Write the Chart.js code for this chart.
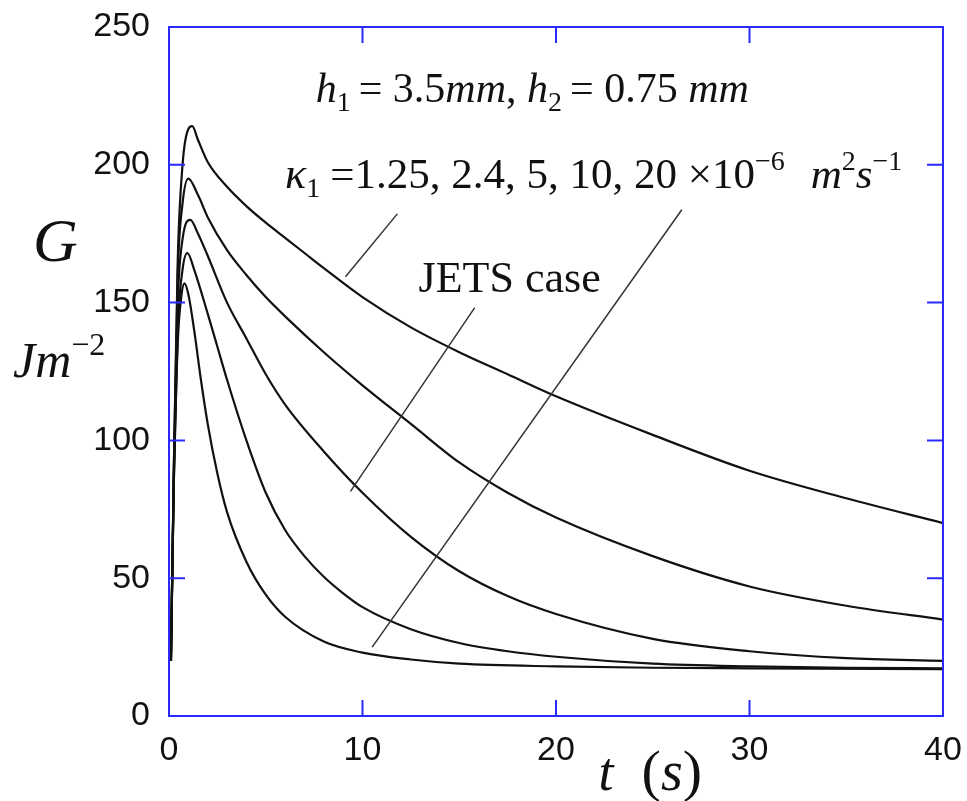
<!DOCTYPE html>
<html lang="en">
<head>
    <meta charset="UTF-8">
    <title>Energy release rate G vs time</title>
    <script src="https://cdn.jsdelivr.net/npm/chart.js"></script>
    <style>
        body { margin: 0; background: #fff; }
        #wrap { width: 967px; height: 801px; }
    </style>
</head>
<body>
    <div id="wrap"><canvas id="gChart" width="967" height="801"></canvas></div>

    <script>
        // G (J/m^2) against time t (s), one curve per kappa_1
        const kappaLabels = ['1.25', '2.4', '5', '10', '20'];

        const t1 = [0.1, 0.25, 0.45, 0.7, 1.0, 1.2, 1.5, 2, 3, 4, 5, 6, 7, 8, 10, 12.5, 15, 17.5, 20, 25, 30, 35, 40];
        const g1 = [20, 90, 165, 200, 213, 214, 209, 201, 192, 185, 179, 173.5, 168, 162.5, 152, 141, 132, 124, 116, 102, 89, 79, 70];

        const t2 = [0.1, 0.25, 0.45, 0.7, 1.0, 1.5, 2, 3, 4, 5, 6, 8, 10, 12.5, 15, 17.5, 20, 25, 30, 35, 40];
        const g2 = [20, 90, 160, 186, 195, 189, 181, 169, 160, 152, 145, 132, 120, 106, 92, 81, 72, 58, 47, 40, 35];

        const t3 = [0.1, 0.25, 0.45, 0.7, 1.1, 1.5, 2, 3, 4, 5, 6, 8, 10, 12.5, 15, 17.5, 20, 25, 30, 35, 40];
        const g3 = [20, 88, 150, 173, 180, 175, 167, 150, 137, 124, 113, 96, 81, 65, 52.5, 43.5, 37, 28, 23.5, 21, 20];

        const t4 = [0.1, 0.25, 0.45, 0.7, 0.95, 1.3, 2, 2.5, 3, 4, 5, 6, 7, 8, 9, 10, 12.5, 15, 17.5, 20, 25, 30, 35, 40];
        const g4 = [20, 85, 140, 162, 168, 162, 146, 134, 122, 100, 81, 67.5, 58, 50.5, 44.5, 39.5, 31.5, 26.5, 23.5, 21.5, 19, 18, 17.5, 17.3];

        const t5 = [0.1, 0.25, 0.45, 0.65, 0.8, 1.0, 1.3, 1.65, 2, 2.5, 3, 4, 5, 6, 8, 10, 12.5, 15, 20, 25, 30, 40];
        const g5 = [20, 85, 135, 153, 157, 153, 140, 122, 106, 88, 74, 56, 44, 36, 27, 23, 20.5, 19, 18, 17.5, 17.3, 17];

        const xTicks = [0, 10, 20, 30, 40];
        const yTicks = [0, 50, 100, 150, 200, 250];

        const seriesT = [t1, t2, t3, t4, t5];
        const seriesG = [g1, g2, g3, g4, g5];

        const blue = '#2a2aff';
        const serif = '"Liberation Serif", "Times New Roman", serif';

        // draw a string made of runs with their own style / vertical shift
        function drawRuns(ctx, runs, x, y) {
            let cx = x;
            for (const r of runs) {
                ctx.font = (r.it ? 'italic ' : '') + r.size + 'px ' + serif;
                ctx.fillText(r.t, cx, y + (r.dy || 0));
                cx += ctx.measureText(r.t).width + (r.gap || 0);
            }
        }

        const frameAndTicks = {
            id: 'frameAndTicks',
            afterDatasetsDraw(chart) {
                const { ctx, chartArea: a, scales } = chart;
                const len = 16;
                ctx.save();
                ctx.strokeStyle = blue;
                ctx.lineWidth = 2;
                ctx.strokeRect(a.left, a.top, a.right - a.left, a.bottom - a.top);
                ctx.beginPath();
                xTicks.forEach(v => {
                    const px = scales.x.getPixelForValue(v);
                    ctx.moveTo(px, a.bottom); ctx.lineTo(px, a.bottom - len);
                    ctx.moveTo(px, a.top); ctx.lineTo(px, a.top + len);
                });
                yTicks.forEach(v => {
                    const py = scales.y.getPixelForValue(v);
                    ctx.moveTo(a.left, py); ctx.lineTo(a.left + len, py);
                    ctx.moveTo(a.right, py); ctx.lineTo(a.right - len, py);
                });
                ctx.stroke();
                ctx.restore();
            }
        };

        // leader lines, given in data units (t, G)
        const leaders = [
            [[9.12, 159.4], [11.8, 182.2]],
            [[15.8, 148.2], [9.38, 81.5]],
            [[26.5, 183.7], [10.5, 25]]
        ];

        const annotations = {
            id: 'annotations',
            afterDraw(chart) {
                const { ctx, scales } = chart;
                const X = v => scales.x.getPixelForValue(v);
                const Y = v => scales.y.getPixelForValue(v);
                ctx.save();
                ctx.strokeStyle = '#333';
                ctx.lineWidth = 1.5;
                leaders.forEach(([p, q]) => {
                    ctx.beginPath();
                    ctx.moveTo(X(p[0]), Y(p[1]));
                    ctx.lineTo(X(q[0]), Y(q[1]));
                    ctx.stroke();
                });

                ctx.fillStyle = '#111';
                ctx.textBaseline = 'alphabetic';
                ctx.textAlign = 'left';

                drawRuns(ctx, [
                    { t: 'h', it: true, size: 42 },
                    { t: '1', size: 28, dy: 9, gap: 8 },
                    { t: '= 3.5', size: 42 },
                    { t: 'mm', it: true, size: 42 },
                    { t: ', ', size: 42 },
                    { t: 'h', it: true, size: 42 },
                    { t: '2', size: 28, dy: 9, gap: 8 },
                    { t: '= 0.75 ', size: 42 },
                    { t: 'mm', it: true, size: 42 }
                ], X(7.58), Y(222.9));

                drawRuns(ctx, [
                    { t: '\u03ba', it: true, size: 44 },
                    { t: '1', size: 28, dy: 9, gap: 10 },
                    { t: '=' + kappaLabels.join(', ') + ' \u00d710', size: 43 },
                    { t: '\u22126', size: 28, dy: -18, gap: 26 },
                    { t: 'm', it: true, size: 43 },
                    { t: '2', size: 28, dy: -18 },
                    { t: 's', it: true, size: 43 },
                    { t: '\u22121', size: 28, dy: -18 }
                ], X(6.0), Y(191.7));

                drawRuns(ctx, [{ t: 'JETS case', size: 44 }], X(12.9), Y(154));

                // axis titles
                drawRuns(ctx, [{ t: 'G', it: true, size: 62 }], 33, Y(165));
                drawRuns(ctx, [
                    { t: 'Jm', it: true, size: 50 },
                    { t: '\u22122', size: 32, dy: -22 }
                ], 13, Y(123));
                drawRuns(ctx, [
                    { t: 't', it: true, size: 54, gap: 28 },
                    { t: '(', size: 58 },
                    { t: 's', it: true, size: 56 },
                    { t: ')', size: 58 }
                ], X(22.2), 790);
                ctx.restore();
            }
        };

        const datasets = seriesT.map((ts, i) => ({
            label: '\u03ba1 = ' + kappaLabels[i],
            data: ts.map((t, j) => ({ x: t, y: seriesG[i][j] })),
            borderColor: '#111',
            borderWidth: 2.2,
            pointRadius: 0,
            fill: false,
            cubicInterpolationMode: 'monotone'
        }));

        const tickFont = { family: '"Liberation Sans", Arial', size: 34 };

        new Chart(document.getElementById('gChart').getContext('2d'), {
            type: 'line',
            data: { datasets },
            options: {
                responsive: false,
                animation: false,
                layout: { padding: { left: 0, top: 27, right: 24, bottom: 0 } },
                plugins: { legend: { display: false }, tooltip: { enabled: false } },
                scales: {
                    x: {
                        type: 'linear',
                        min: 0, max: 40,
                        afterBuildTicks: s => { s.ticks = xTicks.map(v => ({ value: v })); },
                        afterFit: s => { s.height = 85; s.paddingLeft = 0; s.paddingRight = 0; },
                        grid: { display: false, drawTicks: false },
                        border: { display: false },
                        ticks: { color: '#111', padding: 14, font: tickFont }
                    },
                    y: {
                        min: 0, max: 250,
                        afterBuildTicks: s => { s.ticks = yTicks.map(v => ({ value: v })); },
                        afterFit: s => { s.width = 169; s.paddingTop = 0; s.paddingBottom = 0; },
                        grid: { display: false, drawTicks: false },
                        border: { display: false },
                        ticks: { color: '#111', padding: 19, font: tickFont }
                    }
                }
            },
            plugins: [frameAndTicks, annotations]
        });
    </script>
</body>
</html>
